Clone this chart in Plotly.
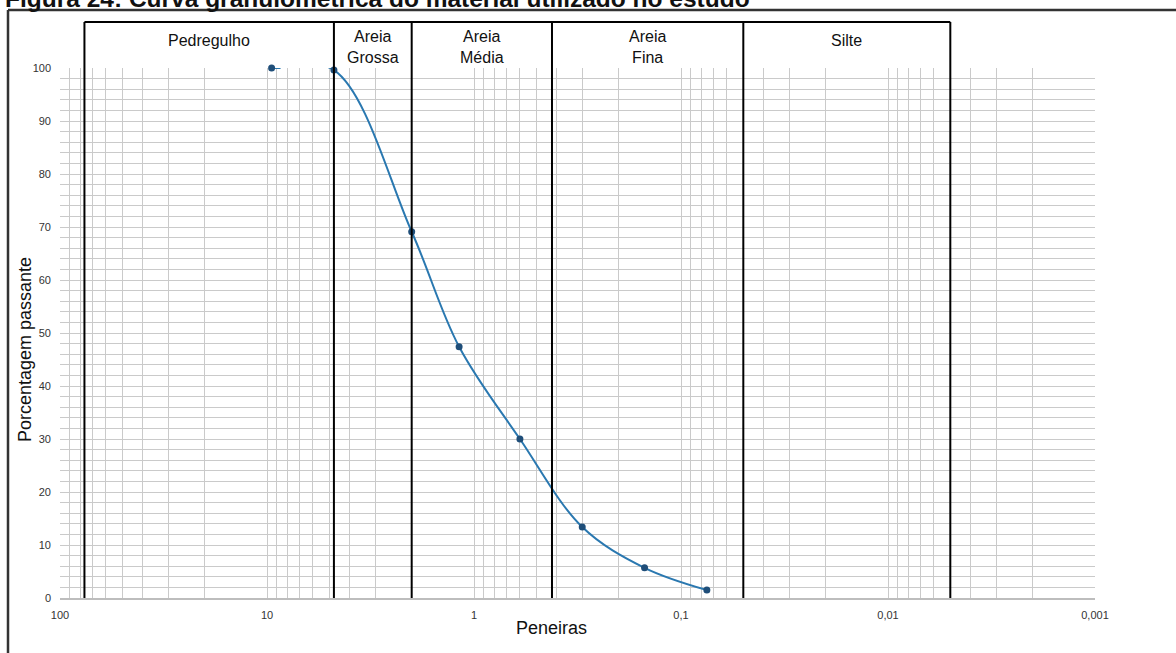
import numpy as np
import plotly.graph_objects as go

# ---------------- data ----------------
sieve_mm = [9.5, 4.75, 2.0, 1.18, 0.6, 0.3, 0.15, 0.075]
passing_pct = [100, 99.6, 69.1, 47.4, 30.0, 13.4, 5.7, 1.5]
stub_mm = [9.5, 8.6]
stub_pct = [100, 100]
bounds_mm = [76.2, 4.75, 2.0, 0.42, 0.05, 0.005]
class_labels = ["Pedregulho", "Areia<br>Grossa", "Areia<br>Média", "Areia<br>Fina", "Silte"]
x_tickvals = [100, 10, 1, 0.1, 0.01, 0.001]
x_ticktext = ["100", "10", "1", "0,1", "0,01", "0,001"]
y_tickvals = list(range(0, 101, 10))
y_minor_vals = list(range(0, 100, 2))
title_text = "Figura 24: Curva granulométrica do material utilizado no estudo"

FONT = "Liberation Sans, Arial, sans-serif"
W, H = 1176, 653
L, R, T, B = 60, 81, 68, 55
PW, PH = W - L - R, H - T - B


def px_x(p):
    return (p - L) / PW


def px_y(q):
    return (H - B - q) / PH


minor_x = [m * 10.0 ** k for k in range(-3, 2) for m in range(2, 10)]

LINE_C = "#2a78b0"
MARK_C = "#1f4e79"

fig = go.Figure()
# smoothed curve through all sieves (the part above 100 % is clipped by the plot area)
fig.add_trace(go.Scatter(x=sieve_mm, y=passing_pct, mode="lines",
                         line=dict(color=LINE_C, width=2, shape="spline", smoothing=1.0),
                         hoverinfo="skip", showlegend=False))
fig.add_trace(go.Scatter(x=stub_mm, y=stub_pct, mode="lines",
                         line=dict(color=LINE_C, width=2), showlegend=False, cliponaxis=False))
fig.add_trace(go.Scatter(x=sieve_mm, y=passing_pct, mode="markers",
                         marker=dict(color=MARK_C, size=7), showlegend=False, cliponaxis=False))

shapes = []
box_top = px_y(22)
for b in bounds_mm:
    shapes.append(dict(type="line", xref="x", yref="paper", x0=b, x1=b, y0=0, y1=box_top,
                       line=dict(color="black", width=2)))
shapes.append(dict(type="line", xref="x", yref="paper", x0=bounds_mm[0],
                   x1=bounds_mm[-1], y0=box_top, y1=box_top,
                   line=dict(color="black", width=2)))
# outer frame (left + top)
shapes.append(dict(type="line", xref="paper", yref="paper", x0=px_x(8), x1=px_x(8),
                   y0=px_y(10), y1=px_y(660), line=dict(color="#333333", width=2.5)))
shapes.append(dict(type="line", xref="paper", yref="paper", x0=px_x(8), x1=px_x(1180),
                   y0=px_y(10), y1=px_y(10), line=dict(color="#333333", width=2.5)))

annotations = []
for i, lab in enumerate(class_labels):
    xc = (np.log10(bounds_mm[i]) + np.log10(bounds_mm[i + 1])) / 2
    yc = px_y(47) if "<br>" in lab else px_y(41)
    annotations.append(dict(text=lab, xref="x", yref="paper", x=xc, y=yc, showarrow=False,
                            xanchor="center", yanchor="middle",
                            font=dict(family=FONT, size=16, color="#111111")))
annotations.append(dict(text="Peneiras", xref="paper", yref="paper", x=px_x(551), y=px_y(628),
                        showarrow=False, xanchor="center", yanchor="middle",
                        font=dict(family=FONT, size=18, color="#111111")))
annotations.append(dict(text="Porcentagem passante", xref="paper", yref="paper", x=px_x(25),
                        y=px_y(350), showarrow=False, textangle=-90, xanchor="center",
                        yanchor="middle", font=dict(family=FONT, size=18, color="#111111")))
annotations.append(dict(text="<b>" + title_text + "</b>", xref="paper", yref="paper", x=px_x(3),
                        y=px_y(14), showarrow=False, xanchor="left", yanchor="bottom",
                        font=dict(family=FONT, size=24.5, color="#111111")))

GRID = "#cacaca"
fig.update_layout(
    width=W, height=H,
    margin=dict(l=L, r=R, t=T, b=B),
    paper_bgcolor="white", plot_bgcolor="white",
    showlegend=False,
    shapes=shapes, annotations=annotations,
    xaxis=dict(type="log", range=[2, -3], tickmode="array", tickvals=x_tickvals,
               ticktext=x_ticktext, showgrid=True, gridcolor=GRID, gridwidth=1,
               zeroline=False, showline=True, linecolor="#bdbdbd", linewidth=1.5,
               ticks="", ticklabelstandoff=6,
               tickfont=dict(family=FONT, size=11, color="#333333"),
               minor=dict(tickmode="array", tickvals=minor_x, showgrid=True,
                          gridcolor=GRID, gridwidth=1, ticks="")),
    yaxis=dict(range=[0, 100], tickmode="array", tickvals=y_tickvals, showgrid=False,
               zeroline=False, showline=False, ticks="", ticklabelstandoff=8,
               tickfont=dict(family=FONT, size=11, color="#333333"),
               minor=dict(tickmode="array", tickvals=y_minor_vals, showgrid=True,
                          gridcolor=GRID, gridwidth=1, ticks="")),
)

fig.write_html("out.html", config={"displayModeBar": False},
               post_script="document.body.style.margin='0';document.body.style.padding='0';")
